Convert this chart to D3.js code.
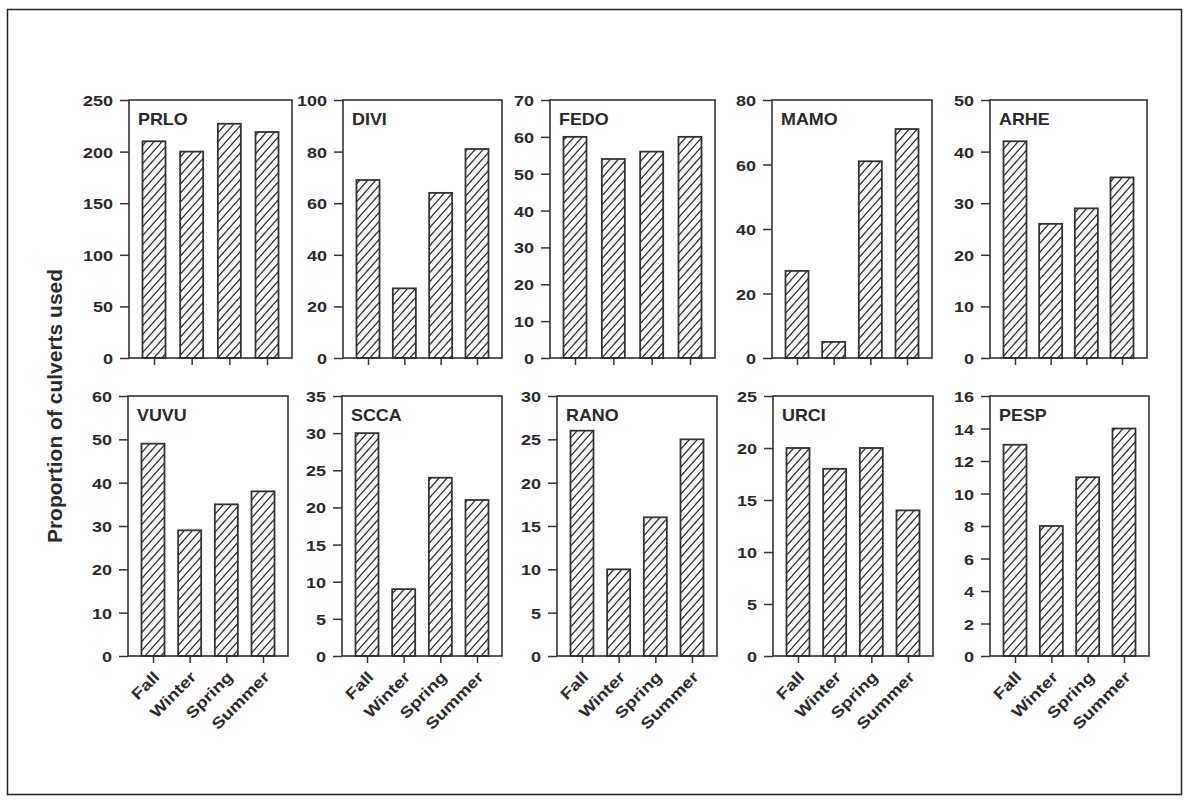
<!DOCTYPE html>
<html>
<head>
<meta charset="utf-8">
<script src="https://cdn.jsdelivr.net/npm/d3@7"></script>
<style>
  body { margin: 0; background: #fff; }
  svg { display: block; }
</style>
</head>
<body>
<svg id="chart" width="1188" height="801"></svg>
<script>
// Seasons on the x axis of every panel
const seasons = ["Fall", "Winter", "Spring", "Summer"];

// Species codes, in panel order (top row, then bottom row)
const species = ["PRLO", "DIVI", "FEDO", "MAMO", "ARHE", "VUVU", "SCCA", "RANO", "URCI", "PESP"];

// Culvert use per season (Fall, Winter, Spring, Summer)
const PRLO = [210, 200, 227, 219];
const DIVI = [69, 27, 64, 81];
const FEDO = [60, 54, 56, 60];
const MAMO = [27, 5, 61, 71];
const ARHE = [42, 26, 29, 35];
const VUVU = [49, 29, 35, 38];
const SCCA = [30, 9, 24, 21];
const RANO = [26, 10, 16, 25];
const URCI = [20, 18, 20, 14];
const PESP = [13, 8, 11, 14];

// Y tick labels for each panel
const ticksPRLO = [0, 50, 100, 150, 200, 250];
const ticksDIVI = [0, 20, 40, 60, 80, 100];
const ticksFEDO = [0, 10, 20, 30, 40, 50, 60, 70];
const ticksMAMO = [0, 20, 40, 60, 80];
const ticksARHE = [0, 10, 20, 30, 40, 50];
const ticksVUVU = [0, 10, 20, 30, 40, 50, 60];
const ticksSCCA = [0, 5, 10, 15, 20, 25, 30, 35];
const ticksRANO = [0, 5, 10, 15, 20, 25, 30];
const ticksURCI = [0, 5, 10, 15, 20, 25];
const ticksPESP = [0, 2, 4, 6, 8, 10, 12, 14, 16];

const yTitle = "Proportion of culverts used";

const seriesList = [PRLO, DIVI, FEDO, MAMO, ARHE, VUVU, SCCA, RANO, URCI, PESP];
const tickList = [ticksPRLO, ticksDIVI, ticksFEDO, ticksMAMO, ticksARHE,
                  ticksVUVU, ticksSCCA, ticksRANO, ticksURCI, ticksPESP];

// ---- layout ----
const panelLeft  = [[129, 343, 550, 772, 990], [128, 342, 557, 773, 990]];
const panelRight = [[292, 502, 715, 932, 1147], [288, 502, 717, 933, 1149]];
const rowTop = [100, 396];
const rowBottom = [358, 656];
const barWidth = 23;
const barInset = 25;
const lineColor = "#333";
const textColor = "#2a2a2a";
const fontFamily = "'Liberation Sans', Arial, Helvetica, sans-serif";
const tickStretch = 1.2;

const svg = d3.select("#chart");

// Diagonal hatch fill for bars
const hw = 8, hh = 9, a = 2;
const defs = svg.append("defs");
defs.append("pattern")
  .attr("id", "hatch")
  .attr("patternUnits", "userSpaceOnUse")
  .attr("width", hw)
  .attr("height", hh)
  .call(p => p.append("rect").attr("width", hw).attr("height", hh).attr("fill", "#fff"))
  .append("path")
  .attr("d", `M${-a},${a * hh / hw} L${a},${-a * hh / hw} M0,${hh} L${hw},0 M${hw - a},${hh + a * hh / hw} L${hw + a},${hh - a * hh / hw}`)
  .attr("stroke", "#2a2a2a")
  .attr("stroke-width", 1.2)
  .attr("fill", "none");

// Outer figure border
svg.append("rect")
  .attr("x", 7.5).attr("y", 9.5)
  .attr("width", 1174).attr("height", 785)
  .attr("fill", "none")
  .attr("stroke", "#222")
  .attr("stroke-width", 1.5);

// Shared y-axis title
svg.append("text")
  .attr("transform", `translate(62,406) rotate(-90)`)
  .attr("text-anchor", "middle")
  .attr("font-family", fontFamily)
  .attr("font-weight", "bold")
  .attr("font-size", 21)
  .attr("fill", textColor)
  .text(yTitle);

species.forEach((name, i) => {
  const row = Math.floor(i / 5), col = i % 5;
  const L = panelLeft[row][col], R = panelRight[row][col];
  const top = rowTop[row], bottom = rowBottom[row];
  const values = seriesList[i];
  const ticks = tickList[i];

  const x = d3.scalePoint().domain(seasons).range([L + barInset, R - barInset]);
  const y = d3.scaleLinear().domain([0, ticks[ticks.length - 1]]).range([bottom, top]);

  const g = svg.append("g").attr("class", "panel");

  // bars
  g.selectAll("rect.bar")
    .data(seasons.map((s, k) => ({ s, v: values[k] })))
    .join("rect")
    .attr("class", "bar")
    .attr("x", d => x(d.s) - barWidth / 2)
    .attr("y", d => y(d.v))
    .attr("width", barWidth)
    .attr("height", d => y(0) - y(d.v))
    .attr("fill", "url(#hatch)")
    .attr("stroke", lineColor)
    .attr("stroke-width", 1.8);

  // y axis
  const ya = g.append("g")
    .attr("transform", `translate(${L},0)`)
    .call(d3.axisLeft(y).tickValues(ticks).tickSize(9).tickPadding(8).tickFormat(d3.format("d")));
  ya.select(".domain").remove();
  ya.selectAll(".tick line").attr("stroke", lineColor).attr("stroke-width", 1.5);
  ya.selectAll(".tick text")
    .attr("x", 0).attr("dy", null)
    .attr("transform", `translate(-16,5.5) scale(${tickStretch},1)`)
    .attr("text-anchor", "end")
    .attr("font-family", fontFamily)
    .attr("font-weight", "bold")
    .attr("font-size", 15)
    .attr("fill", textColor);

  // x axis: tick marks on every panel, season labels on the bottom row only
  const xa = g.append("g")
    .attr("transform", `translate(0,${bottom})`)
    .call(d3.axisBottom(x).tickSize(7).tickPadding(0));
  xa.select(".domain").remove();
  xa.selectAll(".tick line").attr("stroke", lineColor).attr("stroke-width", 1.5);
  if (row === 1) {
    xa.selectAll(".tick text")
      .attr("x", 0).attr("y", 0).attr("dy", null)
      .attr("transform", `translate(7,22) rotate(-45) scale(${tickStretch},1)`)
      .attr("text-anchor", "end")
      .attr("font-family", fontFamily)
      .attr("font-weight", "bold")
      .attr("font-size", 15.5)
      .attr("fill", textColor);
  } else {
    xa.selectAll(".tick text").remove();
  }

  // panel frame
  g.append("rect")
    .attr("x", L).attr("y", top)
    .attr("width", R - L).attr("height", bottom - top)
    .attr("fill", "none")
    .attr("stroke", lineColor)
    .attr("stroke-width", 1.6);

  // species label
  g.append("text")
    .attr("x", 0).attr("y", 0)
    .attr("transform", `translate(${L + 9},${top + 25}) scale(1.12,1)`)
    .attr("font-family", fontFamily)
    .attr("font-weight", "bold")
    .attr("font-size", 16)
    .attr("fill", textColor)
    .text(name);
});
</script>
</body>
</html>
